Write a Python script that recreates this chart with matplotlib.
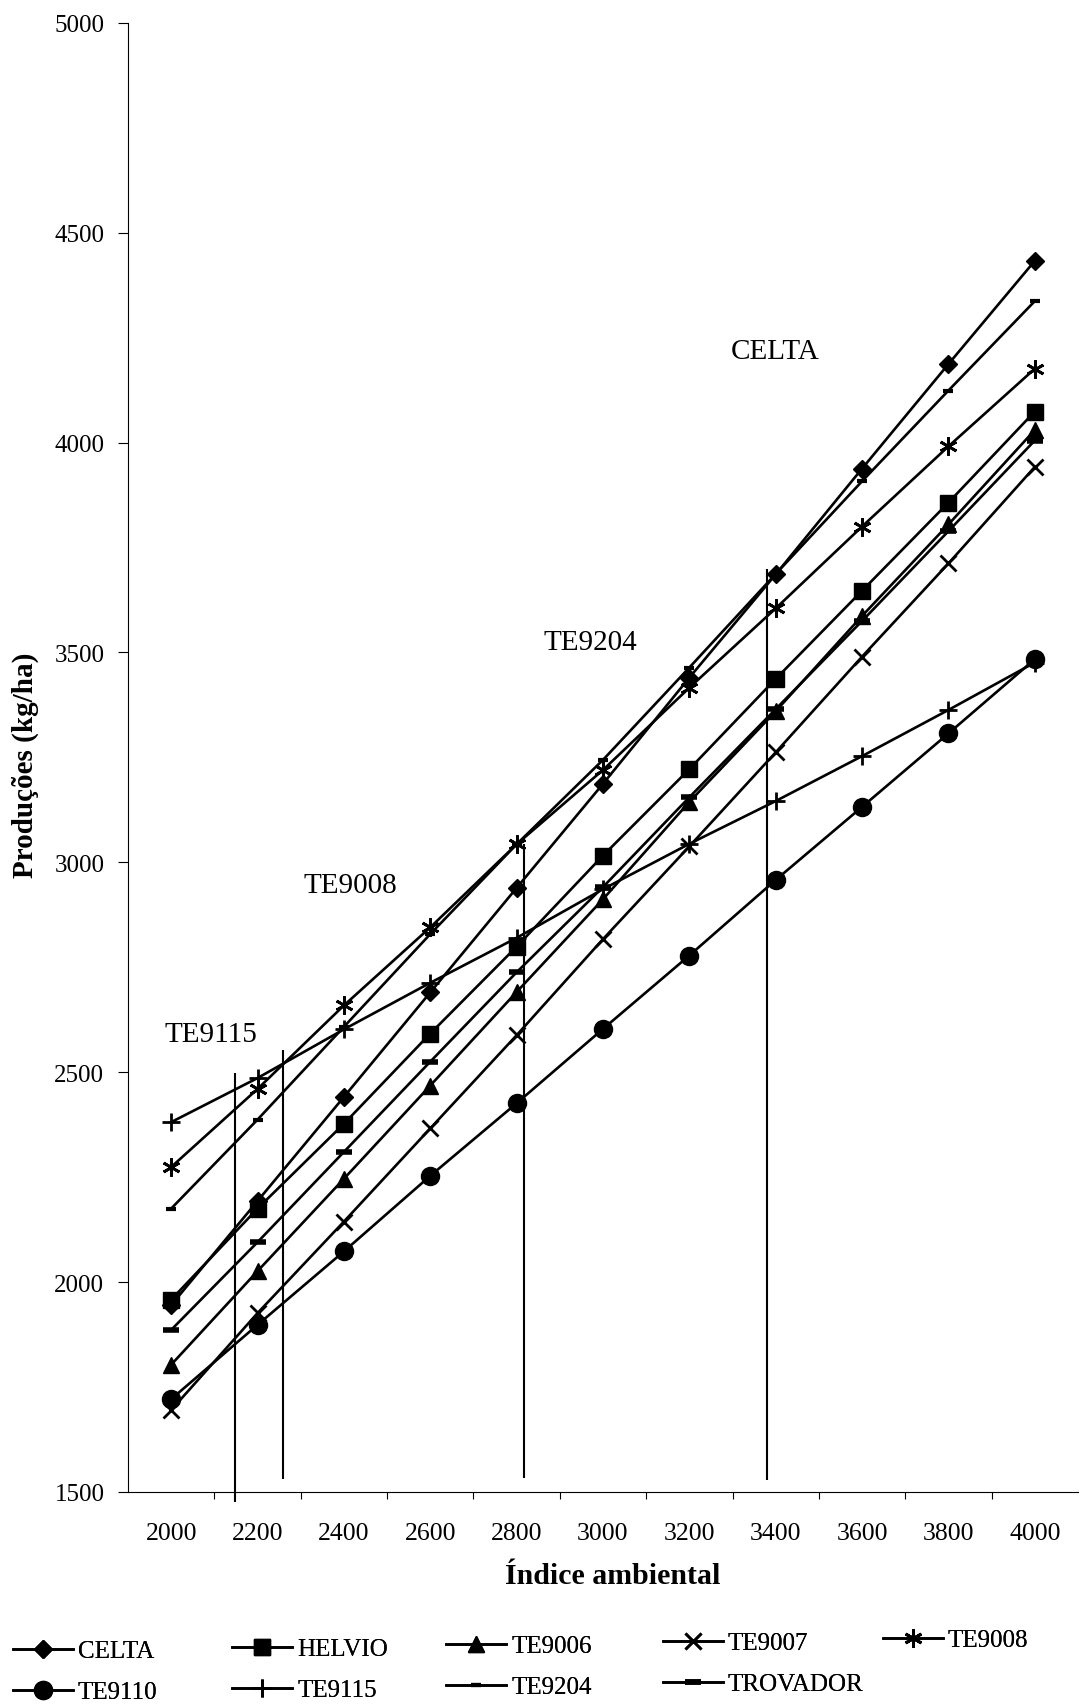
import numpy as np
import matplotlib
matplotlib.use("Agg")
import matplotlib.pyplot as plt

plt.rcParams['font.family'] = ['Liberation Serif', 'DejaVu Serif']

# índice ambiental (eixo x)
indice = [2000, 2200, 2400, 2600, 2800, 3000, 3200, 3400, 3600, 3800, 4000]

# produções estimadas (kg/ha)
celta    = [1945, 2193, 2441, 2690, 2939, 3187, 3440, 3686, 3938, 4187, 4433]
helvio   = [1958, 2175, 2377, 2592, 2799, 3016, 3222, 3437, 3647, 3857, 4074]
te9006   = [1803, 2026, 2246, 2468, 2691, 2912, 3144, 3360, 3587, 3805, 4030]
te9007   = [1695, 1926, 2144, 2366, 2588, 2817, 3038, 3262, 3490, 3712, 3942]
te9008   = [2274, 2460, 2659, 2845, 3043, 3220, 3416, 3605, 3800, 3991, 4176]
te9110   = [1721, 1898, 2073, 2253, 2426, 2603, 2778, 2958, 3132, 3307, 3484]
te9115   = [2381, 2486, 2602, 2713, 2820, 2936, 3044, 3146, 3253, 3363, 3476]
te9204   = [2175, 2387, 2608, 2829, 3043, 3244, 3464, 3687, 3908, 4124, 4337]
trovador = [1886, 2095, 2310, 2525, 2738, 2941, 3155, 3365, 3575, 3789, 4005]

# linhas verticais (pontos de cruzamento)
cruz_x    = [2147, 2258, 2816, 3380]
cruz_topo = [2498, 2554, 3044, 3698]
cruz_base = [1476, 1531, 1533, 1528]

# rótulos no gráfico
rot_txt = ['TE9115', 'TE9008', 'TE9204', 'CELTA']
rot_x   = [2092, 2416, 2970, 3398]
rot_y   = [2591, 2946, 3525, 4219]

fig = plt.figure(figsize=(10.8, 17.06), dpi=100)
ax = fig.add_axes([0.1185, 0.1249, 0.8796, 0.8611])

estilos = [
    ('CELTA',    celta,    dict(marker='D', ms=9)),
    ('HELVIO',   helvio,   dict(marker='s', ms=11)),
    ('TE9006',   te9006,   dict(marker='^', ms=11)),
    ('TE9007',   te9007,   dict(marker='x', ms=11, mew=2)),
    ('TE9008',   te9008,   dict(marker=(6, 2, 0), ms=13, mew=2)),
    ('TE9110',   te9110,   dict(marker='o', ms=13)),
    ('TE9115',   te9115,   dict(marker='+', ms=13, mew=2)),
    ('TE9204',   te9204,   dict(marker='_', ms=7, mew=3)),
    ('TROVADOR', trovador, dict(marker='_', ms=12, mew=4)),
]

linhas = {}
for nome, y, kw in estilos:
    l, = ax.plot(indice, y, color='black', lw=1.9, mfc='black', mec='black',
                 label=nome, **kw)
    linhas[nome] = l

ax.vlines(cruz_x, cruz_base, cruz_topo, color='black', lw=1.5, clip_on=False)

for t, x, y in zip(rot_txt, rot_x, rot_y):
    ax.text(x, y, t, ha='center', va='center', fontsize=21)

ax.set_xlim(1900, 4100)
ax.set_ylim(1500, 5000)
ax.spines['top'].set_visible(False)
ax.spines['right'].set_visible(False)
ax.spines['left'].set_linewidth(0.8)
ax.spines['bottom'].set_linewidth(0.8)

ax.set_xticks(indice)
ax.set_xticks(np.arange(2100, 4000, 200), minor=True)
ax.tick_params(axis='x', which='major', length=0, pad=22, labelsize=18.5)
ax.tick_params(axis='x', which='minor', length=5, width=0.8, direction='out')
ax.set_yticks(np.arange(1500, 5001, 500))
ax.tick_params(axis='y', length=7, width=0.8, pad=10, labelsize=18)

fig.text(25 / 1080, 1 - 765 / 1706, 'Produções (kg/ha)', rotation=90,
         ha='center', va='center', fontsize=21, fontweight='bold')
fig.text(613 / 1080, 1 - 1577 / 1706, 'Índice ambiental',
         ha='center', va='center', fontsize=21.5, fontweight='bold')

# legenda em duas linhas, colunas de largura fixa
leg_pos = {
    'CELTA': (13, 1652), 'HELVIO': (232, 1650), 'TE9006': (446, 1647),
    'TE9007': (663, 1644), 'TE9008': (883, 1641),
    'TE9110': (13, 1693), 'TE9115': (232, 1691), 'TE9204': (446, 1688),
    'TROVADOR': (663, 1685),
}
for nome, (px, py) in leg_pos.items():
    h = linhas[nome]
    lg = fig.legend(handles=[h], labels=[nome], loc='center left',
                    bbox_to_anchor=(px / 1080, 1 - py / 1706), frameon=False,
                    fontsize=18, handlelength=2.4, handletextpad=0.2,
                    borderpad=0, borderaxespad=0, numpoints=1)
    fig.add_artist(lg)

fig.savefig('out.png', dpi=100, facecolor='white')
